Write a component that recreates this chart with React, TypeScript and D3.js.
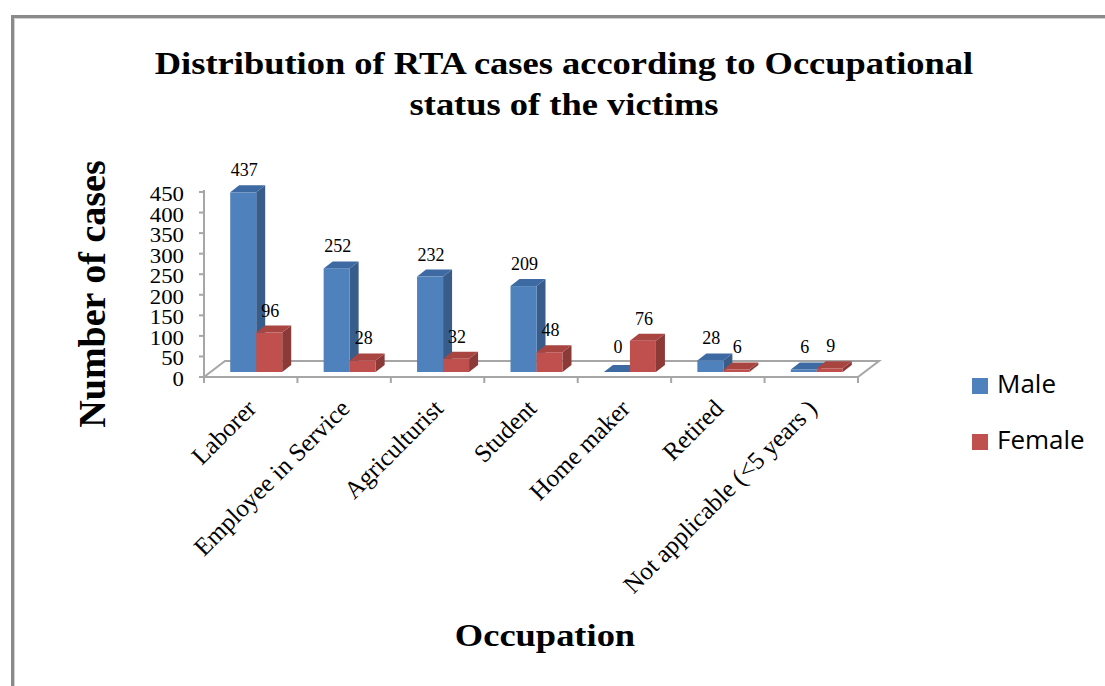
import * as d3 from 'd3';

const categories = [
  'Laborer',
  'Employee in Service',
  'Agriculturist',
  'Student',
  'Home maker',
  'Retired',
  'Not applicable (<5 years )',
];
const maleValues = [437, 252, 232, 209, 0, 28, 6];
const femaleValues = [96, 28, 32, 48, 76, 6, 9];
const seriesNames = ['Male', 'Female'];
const yTicks = [0, 50, 100, 150, 200, 250, 300, 350, 400, 450];

const W = 1105;
const H = 686;
const SX = 1.14; // source picture is a little wide

const colors: Record<string, { front: string; side: string; top: string }> = {
  Male: { front: '#4F81BD', side: '#385D8A', top: '#3D6AA3' },
  Female: { front: '#C0504D', side: '#8C3A37', top: '#A84541' },
};

// floor / axis geometry
const x0 = 204;
const x1 = 858;
const floorY = 377;
const depth = { dx: 21, dy: -16 };
const bar = { dx: 9, dy: -7, baseLift: 5 };

export default function App() {
  const x = d3.scaleBand<string>().domain(categories).range([x0, x1]).padding(0);
  const xSub = d3.scaleBand<string>().domain(seriesNames).range([-20.5, 31.5]);
  const y = d3.scaleLinear().domain([0, 450]).range([floorY, 192]);
  const base = floorY - bar.baseLift;

  const rows = categories.map((c, i) => ({ c, Male: maleValues[i], Female: femaleValues[i] }));
  const serif = '"Liberation Serif", "Times New Roman", serif';

  const bars: JSX.Element[] = [];
  const labels: JSX.Element[] = [];
  rows.forEach((r) => {
    const cx = (x(r.c) ?? 0) + x.bandwidth() / 2;
    seriesNames.forEach((s) => {
      const v = (r as any)[s] as number;
      const bx = cx + (xSub(s) ?? 0);
      const bw = xSub.bandwidth();
      const top = base - (floorY - y(v));
      const col = colors[s];
      const { dx, dy } = bar;
      bars.push(
        <g key={r.c + s}>
          <polygon
            points={`${bx + bw},${top} ${bx + bw + dx},${top + dy} ${bx + bw + dx},${base + dy} ${bx + bw},${base}`}
            fill={col.side}
          />
          {base - top > 0.3 && <rect x={bx} y={top} width={bw} height={base - top} fill={col.front} />}
          <polygon
            points={`${bx},${top} ${bx + dx},${top + dy} ${bx + bw + dx},${top + dy} ${bx + bw},${top}`}
            fill={col.top}
          />
        </g>
      );
      const ly = Math.min(top + dy - 9, 353);
      labels.push(
        <text key={'l' + r.c + s} x={bx + bw / 2 + 1} y={ly} textAnchor="middle" fontSize={18} fontFamily={serif} fill="#000">
          {v}
        </text>
      );
    });
  });

  const floorLine = '#A6A6A6';

  return (
    <svg width={W} height={H} style={{ position: 'absolute', left: 0, top: 0, background: '#fff' }}>
      <rect x={0} y={0} width={W} height={H} fill="#fff" />
      {/* chart frame */}
      <rect x={12.5} y={16.5} width={1300} height={900} fill="none" stroke="#8a8a8a" strokeWidth={3} />
      <line x1={14.5} y1={18.5} x2={1300} y2={18.5} stroke="#d0d0d0" strokeWidth={1} />
      <line x1={14.5} y1={18.5} x2={14.5} y2={900} stroke="#d0d0d0" strokeWidth={1} />

      {/* title */}
      <g fontFamily={serif} fontWeight="bold" fontSize={32} fill="#000" textAnchor="middle">
        <text transform={`translate(564,74) scale(${SX},1)`}>Distribution of RTA cases according to Occupational</text>
        <text transform={`translate(564,115) scale(${SX},1)`}>status of the victims</text>
      </g>

      {/* floor */}
      <g stroke={floorLine} strokeWidth={2} fill="none">
        <path
          d={`M${x0},${floorY} L${x1},${floorY} L${x1 + depth.dx},${floorY + depth.dy} L${x0 + depth.dx},${floorY + depth.dy} Z`}
        />
        <line x1={x0} y1={y(450) - 2} x2={x0} y2={floorY + 1} />
        {yTicks.map((t) => (
          <line key={'yt' + t} x1={x0 - 5} x2={x0} y1={y(t)} y2={y(t)} />
        ))}
        {d3.range(categories.length + 1).map((i) => {
          const tx = x0 + i * x.step();
          return <line key={'xt' + i} x1={tx} x2={tx} y1={floorY} y2={floorY + 6} />;
        })}
      </g>

      {/* y tick labels */}
      <g fontFamily={serif} fontSize={20} fill="#000" textAnchor="end">
        {yTicks.map((t) => (
          <text key={'yl' + t} transform={`translate(184,${y(t) + 9}) scale(${SX},1)`}>
            {t}
          </text>
        ))}
      </g>

      {bars}
      {labels}

      {/* category labels */}
      <g fontFamily={serif} fontSize={25} fill="#000" textAnchor="end">
        {categories.map((c) => {
          const cx = (x(c) ?? 0) + x.bandwidth() / 2 + 7;
          return (
            <text key={'cl' + c} transform={`translate(${cx},410) rotate(-45)`}>
              {c}
            </text>
          );
        })}
      </g>

      {/* axis titles */}
      <text
        transform="translate(105,294) rotate(-90)"
        textAnchor="middle"
        fontFamily={serif}
        fontWeight="bold"
        fontSize={38}
        fill="#000"
      >
        Number of cases
      </text>
      <text
        transform={`translate(545,646) scale(${SX},1)`}
        textAnchor="middle"
        fontFamily={serif}
        fontWeight="bold"
        fontSize={32}
        fill="#000"
      >
        Occupation
      </text>

      {/* legend */}
      <g fontFamily='"Open Sans", sans-serif' fontSize={26} fill="#000">
        {seriesNames.map((s, i) => (
          <g key={'lg' + s} transform={`translate(972,${378 + i * 56})`}>
            <rect x={0} y={0} width={16} height={16} fill={colors[s].front} />
            <text x={25} y={15}>
              {s}
            </text>
          </g>
        ))}
      </g>
    </svg>
  );
}
